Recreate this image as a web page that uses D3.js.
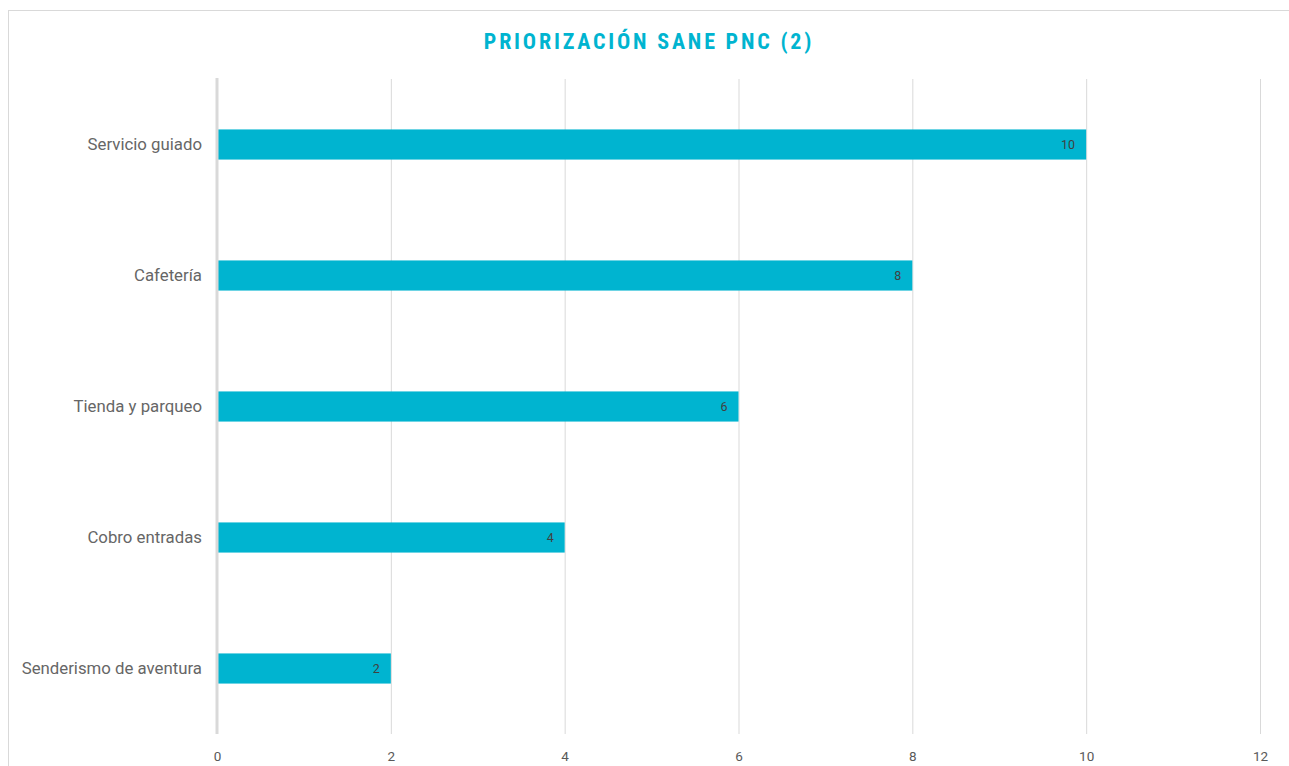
<!DOCTYPE html>
<html><head><meta charset="utf-8">
<script src="https://cdn.jsdelivr.net/npm/d3@7"></script>
<style>
body{margin:0;background:#fff;}
svg{display:block;}
</style></head>
<body><svg id="c" width="1289" height="766"></svg>
<script>
const categories = ["Servicio guiado","Cafetería","Tienda y parqueo","Cobro entradas","Senderismo de aventura"];
const values = [10, 8, 6, 4, 2];
const xTicks = [0, 2, 4, 6, 8, 10, 12];
const title = "PRIORIZACIÓN SANE PNC (2)";

const svg = d3.select("#c");
const W = 1289, H = 766;
const m = {left:217, right:29, top:79, bottom:32};

svg.append("rect").attr("x",8.5).attr("y",10.5).attr("width",1290).attr("height",800)
  .attr("fill","#fff").attr("stroke","#d9d9d9").attr("stroke-width",1);

svg.append("text").attr("x",649).attr("y",49).attr("text-anchor","middle")
  .attr("font-family","'Liberation Sans Narrow','Roboto Condensed','Arial Narrow',Roboto,sans-serif")
  .attr("font-stretch","condensed")
  .attr("font-weight","bold").attr("font-size",22).attr("letter-spacing",2.8)
  .attr("fill","#00b4d0").text(title);

const x = d3.scaleLinear().domain([0,12]).range([m.left, W-m.right]);
const y = d3.scaleBand().domain(categories).range([m.top, H-m.bottom]).paddingInner(0.77).paddingOuter(0.385);

// gridlines
const xAxis = d3.axisBottom(x).tickValues(xTicks).tickSize(-(H-m.bottom-m.top)).tickPadding(17).tickFormat(d3.format("d"));
const gx = svg.append("g").attr("transform",`translate(0,${H-m.bottom})`).call(xAxis);
gx.select(".domain").remove();
gx.selectAll(".tick line").attr("stroke","#d9d9d9").attr("stroke-width",1);
gx.selectAll(".tick text").attr("fill","#595959").attr("font-family","Roboto,'Open Sans',sans-serif").attr("font-size",13.5);

// bars
svg.append("g").selectAll("rect").data(values).join("rect")
  .attr("x",x(0)).attr("y",(d,i)=>y(categories[i]))
  .attr("width",d=>x(d)-x(0)).attr("height",y.bandwidth())
  .attr("fill","#00b4d0");

// zero axis line
svg.append("line").attr("x1",x(0)).attr("x2",x(0)).attr("y1",m.top-1).attr("y2",H-m.bottom)
  .attr("stroke","#d9d9d9").attr("stroke-width",3);

// value labels
svg.append("g").selectAll("text").data(values).join("text")
  .attr("x",d=>x(d)-11).attr("y",(d,i)=>y(categories[i])+y.bandwidth()/2)
  .attr("dy","0.35em").attr("text-anchor","end")
  .attr("font-family","Roboto,'Open Sans',sans-serif").attr("font-size",12.5).attr("fill","#404040")
  .text(d=>d);

// category axis
const yAxis = d3.axisLeft(y).tickSize(0).tickPadding(15);
const gy = svg.append("g").attr("transform",`translate(${x(0)},0)`).call(yAxis);
gy.select(".domain").remove();
gy.selectAll(".tick text").attr("fill","#666666").attr("font-family","Roboto,'Open Sans',sans-serif").attr("font-size",16.8);
</script></body></html>
